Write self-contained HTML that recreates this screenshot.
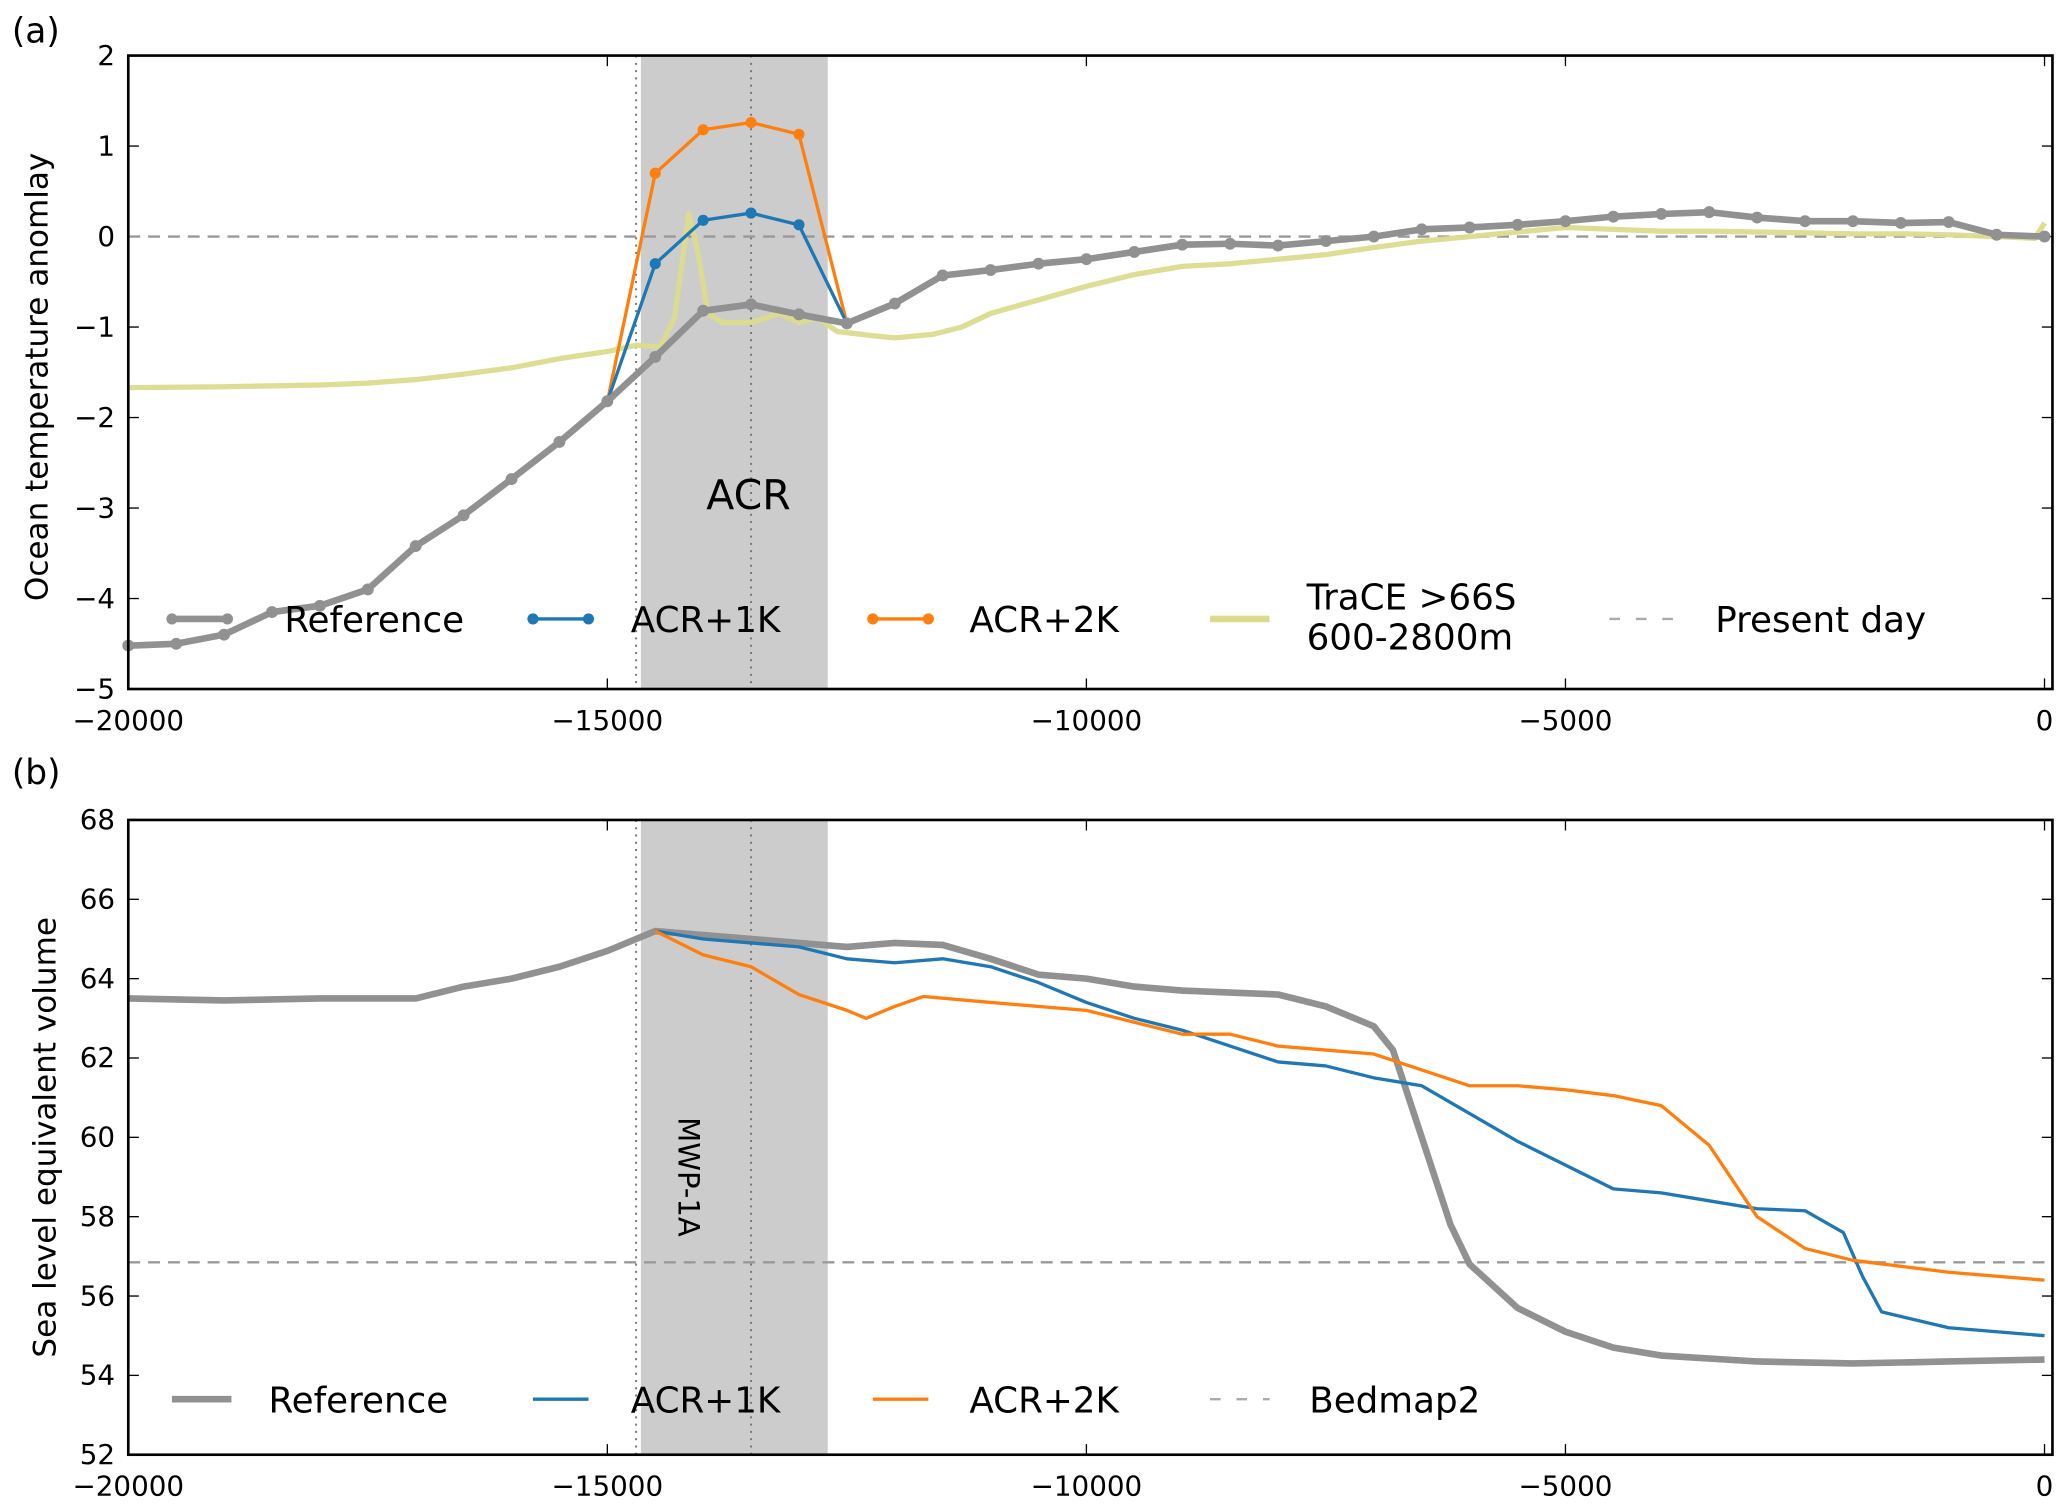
<!DOCTYPE html>
<html><head><meta charset="utf-8"><style>
html,body{margin:0;padding:0;background:#fff}
svg{display:block}
text{font-family:"DejaVu Sans","Liberation Sans",sans-serif;fill:#000}
</style></head><body>
<svg id="chart" width="2067" height="1505" viewBox="0 0 1563 1138" xmlns="http://www.w3.org/2000/svg"></svg>
<script>
// ---------- data ----------
const refYearsA = [-20000,-19500,-19000,-18500,-18000,-17500,-17000,-16500,-16000,-15500,-15000,-14500,-14000,-13500,-13000,-12500,-12000,-11500,-11000,-10500,-10000,-9500,-9000,-8500,-8000,-7500,-7000,-6500,-6000,-5500,-5000,-4500,-4000,-3500,-3000,-2500,-2000,-1500,-1000,-500,0];
const refTempA = [-4.52,-4.5,-4.4,-4.15,-4.08,-3.9,-3.42,-3.08,-2.68,-2.27,-1.82,-1.33,-0.82,-0.75,-0.86,-0.96,-0.74,-0.43,-0.37,-0.3,-0.25,-0.17,-0.09,-0.08,-0.1,-0.05,0.0,0.08,0.1,0.13,0.17,0.22,0.25,0.27,0.21,0.17,0.17,0.15,0.16,0.02,0.0];
const acrYears = [-15000,-14500,-14000,-13500,-13000,-12500];
const acr1Temp = [-1.82,-0.3,0.18,0.26,0.13,-0.96];
const acr2Temp = [-1.82,0.7,1.18,1.26,1.13,-0.96];
const traceYears = [-20000,-19000,-18000,-17500,-17000,-16500,-16000,-15500,-15000,-14700,-14450,-14300,-14150,-14050,-13950,-13800,-13500,-13200,-13000,-12800,-12600,-12200,-12000,-11600,-11300,-11000,-10500,-10000,-9500,-9000,-8500,-8000,-7500,-7000,-6500,-6000,-5500,-5000,-4500,-4000,-3500,-3000,-2500,-2000,-1500,-1000,-500,-100,0];
const traceTemp = [-1.67,-1.66,-1.64,-1.62,-1.58,-1.52,-1.45,-1.35,-1.27,-1.2,-1.22,-0.9,0.25,-0.2,-0.85,-0.95,-0.95,-0.85,-0.95,-0.9,-1.05,-1.1,-1.12,-1.08,-1.0,-0.85,-0.7,-0.55,-0.42,-0.33,-0.3,-0.25,-0.2,-0.12,-0.05,0.0,0.05,0.1,0.08,0.06,0.06,0.05,0.04,0.03,0.03,0.02,0.0,-0.02,0.15];
const refYearsB = [-20000,-19000,-18000,-17000,-16500,-16000,-15500,-15000,-14500,-14000,-13500,-13000,-12500,-12000,-11500,-11000,-10500,-10000,-9500,-9000,-8500,-8000,-7500,-7000,-6800,-6500,-6200,-6000,-5500,-5000,-4500,-4000,-3000,-2000,-1000,0];
const refSlvB = [63.5,63.45,63.5,63.5,63.8,64.0,64.3,64.7,65.2,65.1,65.0,64.9,64.8,64.9,64.85,64.5,64.1,64.0,63.8,63.7,63.65,63.6,63.3,62.8,62.2,60.0,57.8,56.8,55.7,55.1,54.7,54.5,54.35,54.3,54.35,54.4];
const acr1YearsB = [-14500,-14000,-13000,-12500,-12000,-11500,-11000,-10500,-10000,-9500,-9000,-8500,-8000,-7500,-7000,-6500,-6000,-5500,-5000,-4500,-4000,-3500,-3000,-2500,-2100,-1900,-1700,-1000,0];
const acr1SlvB = [65.2,65.0,64.8,64.5,64.4,64.5,64.3,63.9,63.4,63.0,62.7,62.3,61.9,61.8,61.5,61.3,60.6,59.9,59.3,58.7,58.6,58.4,58.2,58.15,57.6,56.5,55.6,55.2,55.0];
const acr2YearsB = [-14500,-14000,-13500,-13000,-12500,-12300,-12000,-11700,-11000,-10000,-9500,-9000,-8500,-8000,-7500,-7000,-6500,-6000,-5500,-5000,-4500,-4000,-3500,-3000,-2500,-2000,-1000,0];
const acr2SlvB = [65.2,64.6,64.3,63.6,63.2,63.0,63.3,63.55,63.4,63.2,62.9,62.6,62.6,62.3,62.2,62.1,61.7,61.3,61.3,61.2,61.05,60.8,59.8,58.0,57.2,56.9,56.6,56.4];
const xTicks = [-20000,-15000,-10000,-5000,0];
const yTicksA = [2,1,0,-1,-2,-3,-4,-5];
const yTicksB = [68,66,64,62,60,58,56,54,52];
const bedmap2 = 56.85;
const acrStart = -14650, acrEnd = -12700, dot1 = -14700, dot2 = -13500;

// ---------- helpers ----------
const svg = document.getElementById('chart');
const NS = 'http://www.w3.org/2000/svg';
function mk(tag, attrs, parent){
  const e = document.createElementNS(NS, tag);
  for (const k in attrs) e.setAttribute(k, attrs[k]);
  (parent||svg).appendChild(e);
  return e;
}
const L = 97, R = 1552;
const xs = v => L + (v + 20000) / 20000 * (1546 - L);
const ysA = v => 42 + (2 - v) * (479 / 7);
const ysB = v => 620 + (68 - v) * (480 / 16);
function pts(xa, ya, ys){ return xa.map((x,i)=> xs(x).toFixed(1)+','+ys(ya[i]).toFixed(1)).join(' '); }

function panel(name, top, bot, ys, yTicks){
  const g = mk('g', {});
  
  
  const sh = mk('rect', {x: xs(acrStart), y: top, width: xs(acrEnd)-xs(acrStart), height: bot-top, fill:'#cccccc'}, g);
  
  
  [dot1, dot2].forEach(d => {
    const l = mk('line', {x1: xs(d), x2: xs(d), y1: top, y2: bot, stroke:'#777', 'stroke-width':1.5, 'stroke-dasharray':'1.5,4'}, g);
    
    
  });
  xTicks.forEach(t => {
    mk('line', {x1: xs(t), x2: xs(t), y1: bot, y2: bot-8, stroke:'#000', 'stroke-width':1}, g);
    mk('line', {x1: xs(t), x2: xs(t), y1: top, y2: top+8, stroke:'#000', 'stroke-width':1}, g);
    const tx = mk('text', {x: xs(t), y: bot+31, 'text-anchor':'middle', 'font-size':21}, g);
    tx.textContent = t < 0 ? '\u2212' + Math.abs(t) : String(t);
    
    
  });
  yTicks.forEach(t => {
    mk('line', {x1: L, x2: L+8, y1: ys(t), y2: ys(t), stroke:'#000', 'stroke-width':1}, g);
    mk('line', {x1: R, x2: R-8, y1: ys(t), y2: ys(t), stroke:'#000', 'stroke-width':1}, g);
    const tx = mk('text', {x: L-10, y: ys(t)+7, 'text-anchor':'end', 'font-size':21}, g);
    tx.textContent = t < 0 ? '\u2212' + Math.abs(t) : String(t);
    
    
  });
  return g;
}

// ---------- panel a ----------
const gA = panel('panel-a', 42, 521, ysA, yTicksA);
let e;
e = mk('line', {x1: L, x2: R, y1: ysA(0), y2: ysA(0), stroke:'#999', 'stroke-width':1.8, 'stroke-dasharray':'9,6'}, gA);
 
e = mk('polyline', {points: pts(traceYears, traceTemp, ysA), fill:'none', stroke:'#dbdb8d', 'stroke-width':4, 'stroke-linejoin':'round', opacity:0.95}, gA);
 
function markerLine(xa, ya, color, w, r, name){
  const l = mk('polyline', {points: pts(xa, ya, ysA), fill:'none', stroke: color, 'stroke-width': w, 'stroke-linejoin':'round'}, gA);
   
  xa.forEach((x,i) => {
    const c = mk('circle', {cx: xs(x), cy: ysA(ya[i]), r: r, fill: color}, gA);
     
  });
}
markerLine(acrYears, acr2Temp, '#ff7f0e', 2.5, 4.2, 'acr2k-line');
markerLine(acrYears, acr1Temp, '#1f77b4', 2.5, 4.2, 'acr1k-line');
markerLine(refYearsA, refTempA, '#919191', 5, 4.5, 'reference-line');
e = mk('rect', {x: L, y: 42, width: R-L, height: 479, fill:'none', stroke:'#000', 'stroke-width':2}, gA);
 
e = mk('text', {x: 566, y: 385, 'text-anchor':'middle', 'font-size':31}, gA);
e.textContent = 'ACR';  
e = mk('text', {x: 36, y: 285, 'text-anchor':'middle', 'font-size':23.5, transform:'rotate(-90 36 285)'}, gA);
e.textContent = 'Ocean temperature anomlay';  
e = mk('text', {x: 9, y: 32, 'font-size':26}, gA);
e.textContent = '(a)';  

function legLine(g, x1, x2, y, color, w, dash, marker, label, tx, name){
  const lg = mk('g', {}, g);
   
  const a = {x1:x1, x2:x2, y1:y, y2:y, stroke:color, 'stroke-width':w};
  if (dash) a['stroke-dasharray'] = dash;
  mk('line', a, lg);
  if (marker){ mk('circle',{cx:x1,cy:y,r:4.2,fill:color},lg); mk('circle',{cx:x2,cy:y,r:4.2,fill:color},lg); }
  if (Array.isArray(label)){
    label.forEach((s,i)=>{ const t = mk('text',{x:tx,y:y-7+i*30,'font-size':27},lg); t.textContent = s; });
  } else { const t = mk('text',{x:tx,y:y+10,'font-size':27},lg); t.textContent = label; }
}
legLine(gA,130,172,468,'#919191',5,null,true,'Reference',215,'legend-reference');
legLine(gA,403,445,468,'#1f77b4',2.5,null,true,'ACR+1K',477,'legend-acr1k');
legLine(gA,660,702,468,'#ff7f0e',2.5,null,true,'ACR+2K',733,'legend-acr2k');
legLine(gA,915,960,468,'#dbdb8d',5,null,false,['TraCE >66S','600-2800m'],988,'legend-trace');
legLine(gA,1217,1265,468,'#aaa',1.8,'8,12',false,'Present day',1297,'legend-present-day');

// ---------- panel b ----------
const gB = panel('panel-b', 620, 1100, ysB, yTicksB);
e = mk('line', {x1: L, x2: R, y1: ysB(bedmap2), y2: ysB(bedmap2), stroke:'#999', 'stroke-width':1.8, 'stroke-dasharray':'9,6'}, gB);
 
e = mk('polyline', {points: pts(refYearsB, refSlvB, ysB), fill:'none', stroke:'#919191', 'stroke-width':5, 'stroke-linejoin':'round'}, gB);
 
e = mk('polyline', {points: pts(acr1YearsB, acr1SlvB, ysB), fill:'none', stroke:'#1f77b4', 'stroke-width':2.5, 'stroke-linejoin':'round'}, gB);
 
e = mk('polyline', {points: pts(acr2YearsB, acr2SlvB, ysB), fill:'none', stroke:'#ff7f0e', 'stroke-width':2.5, 'stroke-linejoin':'round'}, gB);
 
e = mk('rect', {x: L, y: 620, width: R-L, height: 480, fill:'none', stroke:'#000', 'stroke-width':2}, gB);
 
e = mk('text', {x: 513, y: 890, 'text-anchor':'middle', 'font-size':22, transform:'rotate(90 513 890)'}, gB);
e.textContent = 'MWP-1A';  
e = mk('text', {x: 42, y: 860, 'text-anchor':'middle', 'font-size':23.5, transform:'rotate(-90 42 860)'}, gB);
e.textContent = 'Sea level equivalent volume';  
e = mk('text', {x: 9, y: 593, 'font-size':26}, gB);
e.textContent = '(b)';  
legLine(gB,130,175,1058,'#919191',5,null,false,'Reference',203,'legend-reference-b');
legLine(gB,403,445,1058,'#1f77b4',2.5,null,false,'ACR+1K',477,'legend-acr1k-b');
legLine(gB,660,702,1058,'#ff7f0e',2.5,null,false,'ACR+2K',733,'legend-acr2k-b');
legLine(gB,915,960,1058,'#aaa',1.8,'8,12',false,'Bedmap2',990,'legend-bedmap2');
</script>
</body></html>
